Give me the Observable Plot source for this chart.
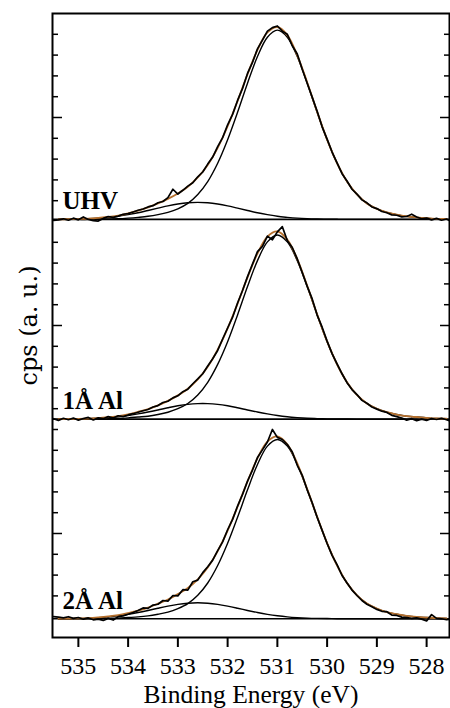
<!DOCTYPE html>
<html>
<head>
<meta charset="utf-8">
<script src="https://cdn.jsdelivr.net/npm/d3@7"></script>
<script src="https://cdn.jsdelivr.net/npm/@observablehq/plot@0.6"></script>
<style>
  html, body { margin: 0; padding: 0; background: #fff; }
  #chart svg { display: block; }
</style>
</head>
<body>
<div id="chart"></div>
<script>
// ---- data ----
const panelNames = ["UHV", "1Å Al", "2Å Al"];
const panelBaselines = [20.1, 10.5, 0.9];

const xTicks = [535, 534, 533, 532, 531, 530, 529, 528];
const yMinorTicks = [2,3,4,6,7,8,9,10,11,12,13,14,16,17,18,19,21,22,23,24,26,27,28,29];
const yMajorTicks = [5, 15, 25];

const energyFit = [535.4,535.2,535.0,534.8,534.6,534.4,534.2,534.0,533.8,533.6,533.4,533.2,533.0,532.8,532.6,532.4,532.2,532.0,531.8,531.6,531.4,531.2,531.0,530.8,530.6,530.4,530.2,530.0,529.8,529.6,529.4,529.2,529.0,528.8,528.6,528.4,528.2,528.0,527.8,527.6];

const energyData = [535.5,535.4,535.3,535.2,535.1,535.0,534.9,534.8,534.7,534.6,
534.5,534.4,534.3,534.2,534.1,534.0,533.9,533.8,533.7,533.6,
533.5,533.4,533.3,533.2,533.1,533.0,532.9,532.8,532.7,532.6,
532.5,532.4,532.3,532.2,532.1,532.0,531.9,531.8,531.7,531.6,
531.5,531.4,531.3,531.2,531.1,531.0,530.9,530.8,530.7,530.6,
530.5,530.4,530.3,530.2,530.1,530.0,529.9,529.8,529.7,529.6,
529.5,529.4,529.3,529.2,529.1,529.0,528.9,528.8,528.7,528.6,
528.5,528.4,528.3,528.2,528.1,528.0,527.9,527.8,527.7,527.6,
527.5];

// UHV
const uhvMain = [0,0,0,0,0.01,0.02,0.03,0.06,0.10,0.15,0.23,0.34,0.51,0.77,1.20,1.82,2.70,3.83,5.15,6.55,7.83,8.76,9.10,8.76,7.83,6.55,5.15,3.83,2.70,1.82,1.20,0.77,0.51,0.34,0.23,0.15,0.10,0.06,0.03,0.02];
const uhvSecond = [0.005,0.01,0.02,0.035,0.06,0.10,0.15,0.23,0.32,0.43,0.54,0.65,0.74,0.80,0.82,0.80,0.74,0.65,0.54,0.43,0.32,0.23,0.15,0.10,0.06,0.035,0.02,0.01,0.005,0,0,0,0,0,0,0,0,0,0,0];
const uhvData = [-0.05,-0.02,0.03,-0.04,0.06,-0.02,0.12,0.00,-0.06,-0.08,
0.05,0.14,0.10,0.16,0.25,0.28,0.36,0.44,0.50,0.60,
0.66,0.80,0.86,1.05,1.45,1.22,1.40,1.60,1.76,2.05,
2.28,2.66,3.00,3.50,3.93,4.55,5.05,5.72,6.30,7.02,
7.55,8.20,8.62,9.05,9.22,9.30,9.05,8.90,8.35,7.95,
7.22,6.55,5.88,5.20,4.45,3.86,3.24,2.72,2.20,1.85,
1.45,1.22,0.94,0.80,0.60,0.52,0.38,0.32,0.22,0.20,
0.12,0.14,0.25,0.12,0.03,0.06,-0.02,0.05,-0.04,0.02,
-0.10];

// 1 Å Al
const al1Main = [0,0,0,0,0.01,0.02,0.03,0.06,0.10,0.14,0.22,0.33,0.50,0.75,1.16,1.77,2.63,3.72,5.01,6.37,7.62,8.52,8.85,8.52,7.62,6.37,5.01,3.72,2.63,1.77,1.16,0.75,0.50,0.33,0.22,0.14,0.10,0.06,0.03,0.02];
const al1Second = [0.003,0.007,0.013,0.025,0.04,0.07,0.11,0.17,0.25,0.34,0.44,0.545,0.64,0.71,0.745,0.745,0.71,0.64,0.545,0.44,0.34,0.25,0.17,0.11,0.07,0.04,0.025,0.013,0.007,0.003,0,0,0,0,0,0,0,0,0,0];
const al1Data = [0.02,-0.06,0.04,-0.03,0.05,-0.05,0.03,0.08,-0.04,0.06,
0.02,0.12,0.05,0.16,0.12,0.20,0.26,0.33,0.40,0.46,
0.58,0.65,0.80,0.86,1.02,1.12,1.32,1.44,1.70,1.93,
2.18,2.55,2.90,3.30,3.85,4.38,4.90,5.58,6.18,6.85,
7.45,8.05,8.30,8.80,8.62,9.00,9.25,8.58,8.25,7.70,
7.05,6.38,5.78,5.00,4.42,3.75,3.15,2.66,2.18,1.75,
1.42,1.18,0.90,0.76,0.58,0.48,0.38,0.32,0.18,0.12,
0.05,-0.05,0.02,-0.08,0.00,-0.06,0.03,-0.02,0.04,-0.03,
-0.12];

// 2 Å Al
const al2Main = [0,0,0,0,0.01,0.02,0.03,0.06,0.09,0.14,0.22,0.32,0.49,0.73,1.13,1.72,2.56,3.63,4.88,6.20,7.42,8.30,8.62,8.30,7.42,6.20,4.88,3.63,2.56,1.72,1.13,0.73,0.49,0.32,0.22,0.14,0.09,0.06,0.03,0.02];
const al2Second = [0.005,0.01,0.018,0.032,0.056,0.092,0.145,0.214,0.30,0.40,0.507,0.608,0.694,0.75,0.77,0.75,0.694,0.608,0.507,0.40,0.30,0.214,0.145,0.092,0.056,0.032,0.018,0.01,0.005,0,0,0,0,0,0,0,0,0,0,0];
const al2Data = [0.10,0.08,0.04,0.10,0.02,0.06,-0.02,0.04,-0.05,-0.02,
-0.08,0.02,-0.06,0.10,0.14,0.22,0.30,0.40,0.52,0.50,
0.66,0.70,0.88,0.85,1.12,1.10,1.40,1.38,1.78,1.86,
2.22,2.50,2.82,3.28,3.70,4.28,4.78,5.42,5.98,6.62,
7.15,7.75,8.12,8.50,9.10,8.72,8.62,8.38,8.02,7.38,
6.90,6.20,5.58,4.88,4.25,3.62,3.05,2.60,2.08,1.72,
1.38,1.12,0.88,0.70,0.58,0.45,0.36,0.34,0.18,0.16,
0.08,0.06,0.02,0.04,-0.02,-0.10,0.20,0.02,0.00,-0.04,
-0.02];

const xLabel = "Binding Energy (eV)";
const yLabel = "cps (a. u.)";

// ---- build tables ----
const mains = [uhvMain, al1Main, al2Main];
const seconds = [uhvSecond, al1Second, al2Second];
const datas = [uhvData, al1Data, al2Data];

const fitRows = [];
const dataRows = [];
const panelRows = panelNames.map((name, p) => ({name, base: panelBaselines[p]}));
panelNames.forEach((name, p) => {
  const base = panelBaselines[p];
  energyFit.forEach((e, i) => {
    fitRows.push({panel: name, e,
      main: base + mains[p][i],
      second: base + seconds[p][i],
      env: base + mains[p][i] + seconds[p][i]});
  });
  energyData.forEach((e, i) => {
    dataRows.push({panel: name, e, y: base + datas[p][i]});
  });
});

const serif = "Liberation Serif";

const chart = Plot.plot({
  width: 450,
  height: 708,
  marginLeft: 52,
  marginRight: 1,
  marginTop: 13,
  marginBottom: 71,
  style: {fontFamily: serif, background: "#fff", color: "#000"},
  x: {type: "linear", domain: [535.52, 527.54], label: null},
  y: {domain: [0, 30], label: null},
  marks: [
    Plot.ruleY(panelRows, {y: "base", stroke: "#000", strokeWidth: 1.6}),
    Plot.line(fitRows, {x: "e", y: "main", z: "panel", stroke: "#000", strokeWidth: 1.4, curve: "catmull-rom", clip: true}),
    Plot.line(fitRows, {x: "e", y: "second", z: "panel", stroke: "#000", strokeWidth: 1.4, curve: "catmull-rom", clip: true}),
    Plot.line(fitRows, {x: "e", y: "env", z: "panel", stroke: "#b5702e", strokeWidth: 1.8, curve: "catmull-rom", clip: true}),
    Plot.line(dataRows, {x: "e", y: "y", z: "panel", stroke: "#000", strokeWidth: 1.7, clip: true}),
    Plot.frame({stroke: "#000", strokeWidth: 2}),
    Plot.axisY(yMinorTicks, {anchor: "left", tickSize: -6, tickFormat: () => "", strokeWidth: 1.5, label: null}),
    Plot.axisY(yMajorTicks, {anchor: "left", tickSize: -10, tickFormat: () => "", strokeWidth: 1.5, label: null}),
    Plot.axisY(yMinorTicks, {anchor: "right", tickSize: -6, tickFormat: () => "", strokeWidth: 1.5, label: null}),
    Plot.axisY(yMajorTicks, {anchor: "right", tickSize: -10, tickFormat: () => "", strokeWidth: 1.5, label: null}),
    Plot.axisX(xTicks, {anchor: "bottom", tickSize: 10, strokeWidth: 2, tickFormat: () => "", label: null}),
    Plot.text(xTicks, {x: d => d, text: d => String(d), frameAnchor: "bottom", dy: 36, lineAnchor: "bottom", fontSize: 24, fontFamily: serif, fill: "#000"}),
    Plot.text(panelRows, {y: "base", text: "name", frameAnchor: "left", dx: 10, dy: -10, textAnchor: "start", lineAnchor: "bottom", fontSize: 25, fontWeight: "bold", fontFamily: serif, fill: "#000"}),
    Plot.text([xLabel], {frameAnchor: "bottom", textAnchor: "middle", dy: 65, lineAnchor: "bottom", fontSize: 25.5, fontFamily: serif, fill: "#000"}),
    Plot.text([yLabel], {frameAnchor: "left", textAnchor: "middle", lineAnchor: "middle", dx: -23, rotate: -90, fontSize: 24, fontFamily: "DejaVu Serif", fill: "#000"})
  ]
});
document.getElementById("chart").appendChild(chart);
</script>
</body>
</html>
